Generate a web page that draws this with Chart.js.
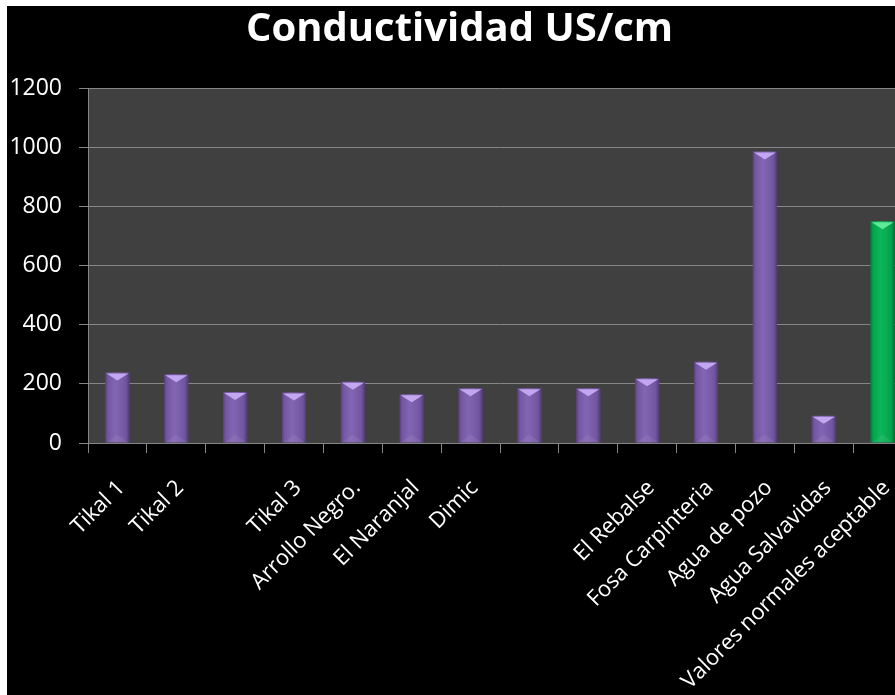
<!DOCTYPE html>
<html lang="es">
<head>
<meta charset="UTF-8">
<title>Conductividad US/cm</title>
<script src="https://cdn.jsdelivr.net/npm/chart.js"></script>
<style>
    html, body { margin: 0; padding: 0; background: #ffffff; overflow: hidden; }
    #marco {
        position: absolute;
        left: 7px;
        top: 6px;
        width: 905px;
        height: 689px;
        background: #000000;
    }
</style>
</head>
<body>

<div id="marco">
    <canvas id="graficoConductividad" width="905" height="689"></canvas>
</div>

<script>
    // puntos de muestreo (los vacios no llevan nombre en el eje)
    const categorias = ['Tikal 1', 'Tikal 2', '', 'Tikal 3', 'Arrollo Negro.', 'El Naranjal', 'Dimic',
        '', '', 'El Rebalse', 'Fosa Carpinteria', 'Agua de pozo', 'Agua Salvavidas', 'Valores normales aceptable'];

    // conductividad medida en US/cm
    const conductividad = [238, 232, 172, 171, 207, 165, 185, 185, 185, 219, 275, 985, 92, 750];

    // marcas del eje y
    const marcasY = [0, 200, 400, 600, 800, 1000, 1200];

    const MORADO = '#7b5cae';
    const VERDE = '#00b050';

    // el ultimo valor es la referencia, va en verde
    const colores = categorias.map((c, i) => i === categorias.length - 1 ? VERDE : MORADO);
    const brillos = categorias.map((c, i) => i === categorias.length - 1 ? '#5ee898' : '#c3a6f0');

    // fondo gris del area de trazado
    const fondoArea = {
        id: 'fondoArea',
        beforeDraw(chart) {
            const { ctx, chartArea } = chart;
            ctx.save();
            ctx.fillStyle = '#404040';
            ctx.fillRect(chartArea.left, chartArea.top, chartArea.right - chartArea.left, chartArea.bottom - chartArea.top);
            ctx.restore();
        }
    };

    // relieve de las barras: bordes oscuros y triangulo claro arriba
    const relieve = {
        id: 'relieve',
        afterDatasetsDraw(chart) {
            const ctx = chart.ctx;
            const meta = chart.getDatasetMeta(0);
            meta.data.forEach(function (barra, i) {
                const p = barra.getProps(['x', 'y', 'base', 'width'], true);
                const izq = p.x - p.width / 2;
                const der = p.x + p.width / 2;
                const alto = p.base - p.y;
                ctx.save();

                const g = ctx.createLinearGradient(izq, 0, der, 0);
                g.addColorStop(0, 'rgba(0,0,0,0.28)');
                g.addColorStop(0.12, 'rgba(0,0,0,0.05)');
                g.addColorStop(0.4, 'rgba(255,255,255,0.06)');
                g.addColorStop(0.85, 'rgba(0,0,0,0.08)');
                g.addColorStop(1, 'rgba(0,0,0,0.35)');
                ctx.fillStyle = g;
                ctx.fillRect(izq, p.y, p.width, alto);

                // triangulo claro superior
                const h = Math.min(8, alto / 2);
                ctx.fillStyle = brillos[i];
                ctx.beginPath();
                ctx.moveTo(izq + 1, p.y + 1);
                ctx.lineTo(der - 1, p.y + 1);
                ctx.lineTo(p.x, p.y + h);
                ctx.closePath();
                ctx.fill();

                // triangulo tenue en la base
                ctx.fillStyle = 'rgba(255,255,255,0.07)';
                ctx.beginPath();
                ctx.moveTo(izq + 1, p.base);
                ctx.lineTo(der - 1, p.base);
                ctx.lineTo(p.x, p.base - h);
                ctx.closePath();
                ctx.fill();

                ctx.restore();
            });
        }
    };

    const dados = {
        labels: categorias,
        datasets: [{
            label: 'Conductividad',
            data: conductividad,
            backgroundColor: colores,
            borderWidth: 0,
            barPercentage: 0.41,
            categoryPercentage: 1
        }]
    };

    const config = {
        type: 'bar',
        data: dados,
        options: {
            responsive: false,
            animation: false,
            layout: { padding: 0 },
            plugins: {
                legend: { display: false },
                tooltip: { enabled: false },
                title: {
                    display: true,
                    text: 'Conductividad US/cm',
                    color: '#ffffff',
                    font: { family: 'Open Sans', size: 40, weight: 'bold' },
                    padding: { top: 0, bottom: 34 }
                }
            },
            scales: {
                x: {
                    afterFit(scale) {
                        scale.height = 252;
                        scale.paddingLeft = 0;
                        scale.paddingRight = 0;
                    },
                    border: { color: '#868686' },
                    grid: {
                        drawOnChartArea: false,
                        drawTicks: true,
                        tickLength: 10,
                        color: '#868686'
                    },
                    ticks: {
                        color: '#ffffff',
                        autoSkip: false,
                        minRotation: 45,
                        maxRotation: 45,
                        padding: 22,
                        labelOffset: 4,
                        font: { family: 'Open Sans', size: 22 }
                    }
                },
                y: {
                    min: 0,
                    max: 1200,
                    afterFit(scale) { scale.width = 81; },
                    afterBuildTicks(scale) { scale.ticks = marcasY.map(v => ({ value: v })); },
                    border: { color: '#868686' },
                    grid: {
                        color: '#868686',
                        tickLength: 9
                    },
                    ticks: {
                        color: '#ffffff',
                        padding: 17,
                        font: { family: 'Open Sans', size: 23 },
                        callback: (v) => String(v)
                    }
                }
            }
        },
        plugins: [fondoArea, relieve]
    };

    let myChart = new Chart(
        document.getElementById('graficoConductividad'),
        config
    );
</script>
</body>
</html>
